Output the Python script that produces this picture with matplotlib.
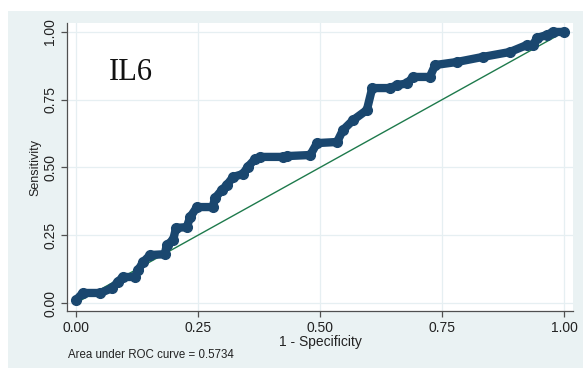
import matplotlib
matplotlib.use("Agg")
import matplotlib.pyplot as plt
from matplotlib.patches import Rectangle

# ROC curve points (1 - specificity, sensitivity)
fpr = [0.0, 0.014, 0.05, 0.074, 0.086, 0.096, 0.12, 0.127, 0.137, 0.152, 0.182,
       0.186, 0.199, 0.205, 0.227, 0.234, 0.248, 0.28, 0.285, 0.299, 0.309,
       0.322, 0.342, 0.352, 0.367, 0.377, 0.424, 0.432, 0.48, 0.494, 0.535,
       0.547, 0.568, 0.596, 0.607, 0.643, 0.658, 0.678, 0.691, 0.725, 0.736,
       0.78, 0.834, 0.889, 0.924, 0.936, 0.945, 0.965, 0.977, 1.0]
tpr = [0.01, 0.037, 0.037, 0.055, 0.078, 0.096, 0.096, 0.12, 0.15, 0.177, 0.18,
       0.214, 0.232, 0.277, 0.28, 0.317, 0.354, 0.354, 0.387, 0.417, 0.435,
       0.465, 0.476, 0.502, 0.531, 0.539, 0.539, 0.542, 0.546, 0.59, 0.594,
       0.638, 0.675, 0.712, 0.793, 0.793, 0.804, 0.81, 0.834, 0.834, 0.878,
       0.889, 0.908, 0.926, 0.952, 0.952, 0.978, 0.989, 1.0, 1.0]
ref = [0.0, 1.0]
ticks = [0.0, 0.25, 0.5, 0.75, 1.0]
tick_labels = ["0.00", "0.25", "0.50", "0.75", "1.00"]
auc_text = "Area under ROC curve = 0.5734"

plt.rcParams['font.family'] = ['Liberation Sans', 'DejaVu Sans']

fig = plt.figure(figsize=(5.83, 3.68), dpi=100)
fig.patch.set_facecolor('white')

bgax = fig.add_axes([0, 0, 1, 1], zorder=-10)
bgax.set_axis_off()
bgax.set_xlim(0, 1)
bgax.set_ylim(0, 1)
bgax.add_patch(Rectangle((8/583, 0), 1 - 8/583, 1 - 11/368,
                         facecolor='#EAF2F3', edgecolor='none'))

ax = fig.add_axes([67/583, 1 - 311/368, (573-67)/583, (311-23)/368], zorder=1)
ax.set_facecolor('white')
ax.set_xlim(-0.0184, 1.0184)
ax.set_ylim(-0.0295, 1.033)

ax.grid(True, color='#E6EFF2', linewidth=0.9)
ax.set_axisbelow(True)

ax.plot(ref, ref, color='#1E7A4C', linewidth=1.0, zorder=3)
ax.plot(fpr, tpr, color='#1A476F', linewidth=6, marker='o', markersize=7,
        solid_joinstyle='round', solid_capstyle='round', zorder=4)

for s in ['top', 'right']:
    ax.spines[s].set_visible(False)
for s in ['left', 'bottom']:
    ax.spines[s].set_color('#505050')
    ax.spines[s].set_linewidth(0.9)

ax.set_xticks(ticks)
ax.set_xticklabels(tick_labels, fontsize=10)
ax.set_yticks(ticks)
ax.set_yticklabels(tick_labels, fontsize=10, rotation=90, va='center')
ax.tick_params(axis='both', direction='out', length=4, width=0.9, color='#505050',
               labelcolor='#222222', pad=3)

ax.set_xlabel("1 - Specificity", fontsize=10, labelpad=0.5, color='#222222')
ax.set_ylabel("Sensitivity", fontsize=9, labelpad=1, color='#222222')

ax.text(131/583, 1 - 72/368, "IL6", transform=fig.transFigure, ha='center', va='center',
        fontsize=22, family=['Liberation Serif', 'DejaVu Serif'], color='#111111')
fig.text(68/583, 1 - 355/368, auc_text, ha='left', va='center', fontsize=8.3,
         color='#222222')

fig.savefig('out.png', dpi=100, facecolor=fig.get_facecolor())
